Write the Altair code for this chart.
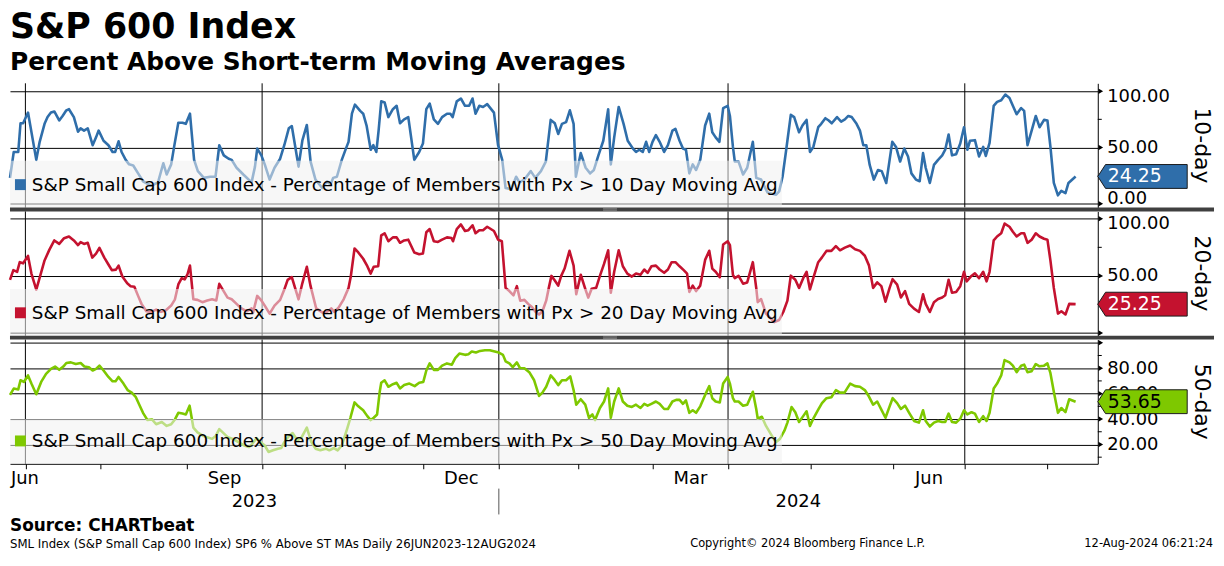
import altair as alt
import pandas as pd

FONT = "DejaVu Sans"
W, H = 1095, 125
XMIN, XMAX = 0.4, 289.9

HOLIDAYS = ["2023-07-04", "2023-09-04", "2023-11-23", "2023-12-25", "2024-01-01",
            "2024-01-15", "2024-02-19", "2024-03-29", "2024-05-27", "2024-06-19", "2024-07-04"]

TITLE = "S&P 600 Index"
SUBTITLE = "Percent Above Short-term Moving Averages"
SOURCE = "Source: CHARTbeat"
FOOT_LEFT = "SML Index (S&P Small Cap 600 Index) SP6 % Above ST MAs  Daily 26JUN2023-12AUG2024"
FOOT_MID = "Copyright\u00a9 2024 Bloomberg Finance L.P."
FOOT_RIGHT = "12-Aug-2024 06:21:24"

SERIES_NAMES = [
    "S&P Small Cap 600 Index - Percentage of Members with Px > 10 Day Moving Avg",
    "S&P Small Cap 600 Index - Percentage of Members with Px > 20 Day Moving Avg",
    "S&P Small Cap 600 Index - Percentage of Members with Px > 50 Day Moving Avg",
]
AXIS_TITLES = ["10-day", "20-day", "50-day"]
COLORS = ["#2f6eaa", "#c4122f", "#7ec800"]
BADGE_TEXT_COLORS = ["white", "white", "black"]
LAST_VALUES = [24.25, 25.25, 53.65]

Y_DOMAINS = [[-3.3, 107], [-2.3, 106.4], [4.8, 102.5]]
Y_TICKS = [[0, 50, 100], [0, 50, 100], [20, 40, 60, 80, 100]]
Y_MINOR = [[25, 75], [25, 75], [10, 30, 50, 70, 90]]
Y_HIDDEN_LABELS = [[], [0], [100]]

MONTH_LABELS = ["Jun", "Sep", "Dec", "Mar", "Jun"]
YEAR_LABELS = ["2023", "2024"]

# [trading-day index since 26 Jun 2023, percent]
PCT_10 = [
    [0.4, 23], [1.4, 46], [2.6, 46], [3.2, 71.5], [3.9, 71.5], [5.2, 81], [7.4, 39], [8.3, 55],
    [9.6, 71], [10.4, 77], [11.3, 81], [12.2, 82], [13.5, 74], [14.4, 78], [15.4, 83], [16.1, 84],
    [17.4, 77], [18.5, 64], [19.2, 67], [20.1, 65], [21.1, 67], [22.4, 52], [23.3, 59], [24.0, 65],
    [25.3, 56], [26.6, 52], [27.7, 46], [28.4, 46], [29.3, 55.5], [30.1, 46], [31.2, 39], [32.1, 35],
    [33.2, 34], [34.5, 27], [35.8, 20], [38.0, 16], [39.8, 19], [41.2, 36], [42.1, 26], [43.3, 35],
    [44.1, 51], [45.2, 72], [46.3, 72], [47.2, 71], [48.3, 80], [49.4, 39], [50.4, 29], [52.0, 23],
    [53.7, 24], [55.1, 24], [56.1, 52], [57.3, 43], [58.6, 40], [59.4, 39], [60.7, 32], [62.5, 26],
    [64.7, 19], [65.6, 33], [66.2, 49], [67.3, 43], [68.2, 35], [69.5, 21.5], [70.8, 32], [72.3, 40],
    [73.4, 52], [74.6, 67], [75.4, 69], [77.2, 33], [78.2, 56], [79.4, 70], [80.4, 37.5], [81.7, 21.5],
    [83.5, 14], [84.8, 20], [85.7, 17], [86.4, 23], [87.4, 24], [88.7, 39], [89.8, 49], [90.5, 55],
    [91.4, 80], [92.2, 88], [93.6, 82.5], [94.4, 80], [95.3, 69.5], [96.4, 48], [97.1, 52], [97.9, 46],
    [98.5, 65], [99.2, 91],
    [100.1, 90], [101.1, 77], [102.3, 84], [103.3, 87], [104.2, 71.5], [105.3, 75], [106.4, 77],
    [108.0, 39], [109.3, 46], [110.3, 53.5], [111.2, 84], [112.1, 89], [113.2, 75], [114.3, 71],
    [115.4, 77], [116.7, 80], [117.6, 80], [118.2, 77], [119.3, 91], [120.4, 93.5], [121.5, 87],
    [122.6, 87], [123.5, 93.5], [124.3, 80], [125.3, 87], [126.3, 86], [127.4, 88.5], [129.2, 81],
    [130.3, 52], [131.4, 39], [132.3, 14], [133.8, 13], [135.1, 24], [136.0, 19], [137.3, 21.5],
    [139.0, 29], [140.2, 23], [141.7, 29], [143.0, 37.5], [144.3, 74.5], [145.4, 71.5], [146.3, 62],
    [147.3, 71], [148.4, 72.5], [149.4, 83], [150.4, 71], [151.0, 24], [152.3, 45], [153.6, 32],
    [154.8, 27], [155.8, 30], [157.0, 43], [158.3, 56], [159.6, 84], [160.3, 35], [161.2, 59],
    [162.4, 86], [163.7, 71], [164.8, 56], [166.2, 49], [167.0, 46], [167.9, 48], [168.8, 46],
    [169.7, 55], [170.5, 46], [171.4, 55], [172.3, 61], [173.3, 55], [174.5, 46], [175.5, 52],
    [176.7, 65], [177.5, 66.5], [178.6, 56], [179.5, 49], [180.3, 48], [181.2, 27], [182.1, 35],
    [183.0, 30], [184.1, 39], [185.4, 69.5], [186.5, 80], [187.3, 63.5], [188.2, 59], [189.2, 55],
    [190.2, 85], [191.4, 87], [192.0, 78], [192.8, 50.5], [193.3, 37.5], [194.3, 37.5], [195.5, 26],
    [196.6, 32], [198.1, 55], [199.0, 23], [200.3, 21.5],
    [202.0, 10], [204.3, 8], [205.1, 11], [206.0, 24], [206.9, 46], [208.2, 79], [209.1, 77],
    [210.4, 63.5], [211.3, 69.5], [212.4, 74.5], [213.3, 46], [214.2, 50.5], [215.5, 68], [216.3, 71],
    [217.4, 76], [218.3, 74], [219.1, 71.5], [220.5, 77], [221.6, 73], [222.6, 75], [223.5, 78],
    [224.4, 77], [225.7, 71], [226.6, 65], [227.5, 52], [228.3, 52], [229.2, 34.5], [230.3, 21.5],
    [231.4, 30], [232.4, 29], [233.6, 18.5], [234.5, 39], [235.2, 55], [236.2, 50.5], [237.3, 37.5],
    [238.4, 49], [239.4, 42], [240.3, 27], [241.5, 21.5], [242.5, 20], [243.4, 45], [244.1, 32],
    [245.2, 18.5], [246.3, 34.5], [247.4, 39], [248.5, 43], [249.3, 48], [250.2, 61.5], [251.1, 43],
    [252.2, 44], [253.3, 53.5], [254.3, 68], [255.2, 48], [255.9, 56], [257.2, 56.5], [258.3, 42],
    [259.4, 50.5], [260.1, 42.5], [261.1, 54], [262.2, 87], [263.1, 90.5], [264.2, 92], [265.3, 97],
    [266.4, 94], [267.3, 87], [268.3, 79.5], [269.5, 85], [270.3, 82.5], [271.2, 52], [272.3, 65],
    [273.4, 78], [274.4, 68], [275.6, 74.5], [276.5, 74], [277.3, 50.5], [278.2, 18.5], [279.3, 7.5],
    [280.2, 11.5], [281.3, 9.5], [282.1, 18.5], [284.0, 24.25],
]

PCT_20 = [
    [0.4, 46.5], [1.3, 55], [2.3, 53.5], [3.0, 62], [3.9, 61], [5.2, 67.5], [6.1, 52], [7.4, 38],
    [8.4, 49.5], [9.6, 63.5], [10.9, 73], [12.2, 81], [13.5, 78], [14.8, 83], [16.1, 84.5], [17.4, 81],
    [18.5, 77], [19.2, 79.5], [20.1, 78], [21.1, 79], [22.3, 66], [23.3, 69.5], [24.2, 74.5], [25.5, 66],
    [26.6, 60], [27.5, 55], [28.6, 55.5], [29.3, 59], [30.3, 49.5], [31.6, 43.5], [32.5, 41], [33.5, 40.5],
    [34.5, 32.5], [35.4, 25.5], [36.7, 19], [38.0, 18.5], [39.3, 20.5], [40.6, 18.5], [41.9, 20], [43.3, 24],
    [44.3, 29.5], [45.2, 42.5], [46.1, 48], [46.9, 47], [47.6, 51], [48.3, 59], [49.2, 29.5], [50.3, 29],
    [51.6, 27], [52.9, 28.5], [54.2, 29.5], [55.3, 28.5], [56.1, 43], [57.3, 36.5], [58.3, 31], [59.4, 29.5],
    [60.7, 25.5], [62.0, 21.5], [63.4, 19], [64.7, 21.5], [65.1, 18], [66.2, 32.5], [67.3, 28.5], [68.2, 24],
    [69.5, 17], [70.8, 24], [72.3, 29], [73.4, 38], [74.3, 46.5], [75.4, 49], [77.2, 29.5], [78.2, 43.5],
    [79.4, 58], [80.4, 41], [81.9, 21.5], [83.5, 18], [84.8, 18.5], [85.9, 21.5], [86.7, 18.5], [87.9, 22.5],
    [89.2, 29.5], [90.5, 39.5], [91.1, 49.5], [92.1, 74], [93.1, 70.5], [94.4, 65], [95.5, 58.5], [96.4, 52],
    [97.2, 58], [98.4, 58.5], [99.2, 85.5],
    [100.1, 87.3], [101.1, 80.3], [102.3, 83.7], [103.3, 83.7], [104.2, 79], [105.3, 81], [106.4, 81.7],
    [108.0, 70.5], [109.3, 69], [110.3, 69.6], [111.2, 88.2], [112.1, 91], [113.2, 80.3], [114.3, 79.7],
    [115.4, 81.7], [116.7, 83.7], [117.9, 83.1], [118.3, 80.3], [119.3, 91], [120.4, 95], [121.5, 89.3],
    [122.4, 90], [123.5, 94.3], [124.3, 87.3], [125.3, 90], [126.3, 90], [127.4, 93], [129.2, 89.3],
    [130.3, 81.7], [131.3, 80.3], [132.3, 39.5], [133.3, 36.7], [134.4, 33], [135.3, 41], [136.2, 28.3],
    [137.3, 29], [138.3, 25.5], [139.3, 22.7], [140.3, 18.4], [141.2, 16.2], [142.1, 19], [143.1, 28.3],
    [143.8, 39.5], [144.5, 50], [145.4, 46], [146.3, 41.5], [147.1, 50], [148.0, 56.4], [149.3, 72],
    [150.4, 59], [151.1, 34], [152.3, 51], [153.5, 38.7], [154.3, 31], [155.2, 38.7], [156.4, 39.5],
    [157.4, 50], [158.5, 60.5], [159.6, 72.4], [160.3, 35.3], [161.2, 53.6], [162.4, 72.4], [163.5, 58.4],
    [164.7, 52], [165.9, 49.4], [167.0, 52], [168.2, 51], [169.2, 55.6], [170.1, 52.7], [171.1, 58.4],
    [172.3, 59], [173.3, 55.6], [174.5, 52.7], [175.5, 55.6], [176.5, 62], [177.5, 62], [178.6, 58.4],
    [179.7, 55], [180.6, 52], [181.2, 36], [182.1, 41.5], [183.0, 36.7], [184.1, 41.5], [185.4, 64],
    [186.5, 72], [187.3, 56.4], [188.2, 53.6], [189.3, 48.8], [190.2, 77.5], [191.4, 80.3], [192.0, 77],
    [192.8, 50.8], [193.3, 48], [194.3, 50], [195.5, 43.2], [196.6, 44.3], [198.1, 62], [199.0, 39.5],
    [199.4, 27], [200.3, 29.7],
    [201.6, 17], [203.8, 9.5], [205.1, 11.4], [206.2, 18.4], [207.3, 28.3], [208.2, 50.2], [209.4, 46.6],
    [210.4, 39.5], [211.5, 48], [212.4, 53.6], [213.3, 38.1], [214.3, 49.4], [215.5, 62], [216.5, 66.2],
    [217.7, 71.9], [219.0, 71.9], [220.2, 76.1], [221.3, 72.4], [222.6, 74.7], [224.0, 76.6], [225.3, 73.3],
    [226.6, 71.9], [227.9, 67.6], [229.0, 59.2], [230.1, 39.5], [231.2, 44.3], [232.3, 41], [233.4, 27.4],
    [234.5, 39.5], [235.3, 47.1], [236.5, 42.3], [237.5, 31.1], [238.6, 36.7], [239.7, 25.5], [241.0, 21.3],
    [242.3, 18.4], [243.4, 33.9], [244.1, 25.5], [245.2, 18.4], [246.3, 26.9], [247.4, 29.7], [248.5, 31.1],
    [249.3, 33.1], [250.2, 46.6], [251.1, 35.3], [252.2, 35.9], [253.3, 41], [254.3, 53.6], [255.0, 45.2],
    [256.1, 49.4], [257.2, 52.2], [258.3, 48], [259.4, 53.6], [260.3, 45.2], [261.1, 53.6], [262.2, 81.1],
    [263.1, 84.5], [264.2, 87.3], [265.1, 95.8], [266.4, 93], [267.3, 88.7], [268.3, 84.5], [269.5, 87.3],
    [270.3, 87.3], [271.2, 78.9], [272.3, 81.7], [273.4, 87.3], [274.4, 84.5], [275.6, 82.5], [276.5, 81.7],
    [277.3, 63.4], [278.2, 39.5], [279.3, 17], [280.2, 19], [281.3, 16.2], [282.3, 25.5], [284.0, 25.25],
]

PCT_50 = [
    [0.4, 59], [1.4, 64], [2.6, 63.3], [3.2, 70.5], [4.1, 69.2], [5.2, 74.3], [6.1, 67.9], [7.4, 59.5],
    [8.7, 69.2], [10.0, 75.6], [11.3, 79.5], [12.4, 81.3], [13.5, 78.7], [14.6, 81.3], [15.4, 84.1],
    [16.6, 84.6], [17.9, 83.3], [19.2, 84.1], [20.2, 81.3], [21.4, 80.8], [22.4, 78.2], [23.3, 79.5],
    [24.2, 82], [25.3, 78.2], [26.6, 73.1], [27.7, 69.7], [28.5, 69.7], [29.3, 73.1], [30.6, 67.9],
    [31.7, 62.8], [32.8, 60.8], [33.9, 57.2], [35.0, 50], [35.8, 44.9], [37.0, 39.2], [38.2, 39.7],
    [39.3, 35.9], [40.8, 37.7], [42.1, 34.6], [43.3, 35.9], [44.3, 39.7], [45.2, 44.9], [46.3, 44.3],
    [47.2, 43.6], [48.2, 50.5], [49.2, 33.3], [50.3, 29.5], [51.7, 26.9], [52.9, 25.6], [54.2, 24.4],
    [55.2, 26.9], [56.1, 32.1], [57.3, 28.7], [58.4, 25.6], [59.7, 24.4], [61.2, 21.8], [62.7, 19.2],
    [64.0, 17.9], [64.9, 20.5], [66.0, 24.9], [66.9, 22.3], [68.2, 19.2], [69.2, 14.1], [70.4, 15.4],
    [71.7, 16.7], [72.6, 17.2], [73.4, 21.8], [74.7, 26.9], [75.6, 29], [76.9, 23.1], [78.0, 25.6],
    [79.4, 33.3], [80.6, 21.8], [81.7, 16.7], [83.0, 15.4], [84.4, 16.7], [85.4, 15.4], [86.6, 17.2],
    [87.6, 15.4], [88.7, 19.2], [90.1, 32.1], [91.0, 41], [92.1, 53.1], [93.1, 50], [94.4, 46.9],
    [95.5, 42.3], [96.4, 39.2], [97.2, 41], [98.1, 43.6], [98.8, 61.5], [99.2, 68.5],
    [100.1, 70.5], [101.1, 65.4], [102.3, 67.4], [103.3, 68.5], [104.2, 64.1], [105.3, 66.7],
    [106.7, 67.9], [108.1, 65.9], [109.3, 68.5], [110.4, 69.2], [111.2, 78.2], [112.1, 83.8],
    [113.2, 78.7], [114.3, 78.7], [115.4, 82], [116.7, 83.8], [118.0, 82.8], [118.9, 87.9], [120.0, 91.5],
    [121.5, 90.5], [122.4, 91], [123.3, 93.1], [124.4, 92.3], [125.5, 93.6], [126.8, 94.1], [128.1, 94.1],
    [129.4, 93.1], [130.5, 92.3], [131.6, 90.5], [132.3, 85.4], [133.3, 83.8], [134.2, 80.8], [135.3, 84.6],
    [136.1, 80.2], [137.3, 80], [138.6, 76.9], [139.9, 70.5], [141.2, 58.2], [142.1, 60.8], [143.1, 65.4],
    [144.3, 74.3], [145.3, 71], [146.3, 66.7], [147.3, 70.5], [148.4, 70.5], [149.5, 73.6], [150.4, 62.8],
    [151.1, 51.3], [152.3, 55.6], [153.5, 51.3], [154.5, 41], [155.4, 43.6], [156.1, 39.2], [157.4, 48.7],
    [158.5, 53.8], [159.6, 64.1], [160.3, 41], [161.2, 53.8], [162.4, 64.1], [163.5, 53.8], [164.7, 50.5],
    [165.9, 49.5], [167.0, 51.3], [168.2, 48.7], [169.2, 52], [170.1, 50.5], [171.1, 52], [172.3, 53.8],
    [173.3, 52], [174.5, 47.9], [175.5, 47.9], [176.7, 53.8], [177.7, 55.1], [178.6, 55.1], [179.5, 52],
    [180.3, 54.6], [181.2, 44.9], [182.1, 46.9], [183.0, 44.9], [184.1, 50], [185.4, 59], [186.5, 65.9],
    [187.3, 56.4], [188.2, 53.8], [189.3, 53.1], [190.2, 67.9], [191.4, 73.1], [192.0, 67.9], [192.8, 56.4],
    [193.3, 53.8], [194.3, 53.8], [195.5, 50.5], [196.6, 51.3], [198.1, 61.5], [199.0, 47.9], [199.4, 40.3],
    [200.5, 41.8], [201.6, 34.6], [202.9, 28.2], [204.2, 21.8],
    [205.3, 24.4], [206.5, 30.8], [207.3, 37.2], [208.4, 49.5], [209.4, 45.4], [210.4, 37.7], [211.5, 42.3],
    [212.4, 46.1], [213.3, 34.6], [214.3, 41], [215.5, 47.4], [216.5, 52.5], [217.7, 56.4], [219.0, 57.2],
    [220.2, 62.8], [221.3, 60.8], [222.5, 60.8], [224.0, 67.9], [225.3, 65.9], [226.6, 65.4], [227.9, 62.8],
    [229.0, 57.7], [230.1, 51.3], [231.2, 53.8], [232.3, 47.4], [233.4, 41], [234.5, 50], [235.3, 56.4],
    [236.5, 52.5], [237.5, 47.9], [238.6, 50.5], [239.7, 44.9], [241.0, 38.5], [242.3, 37.2], [243.4, 46.9],
    [244.1, 38.5], [245.2, 34.1], [246.3, 37.2], [247.4, 38.5], [248.5, 37.7], [249.3, 37.7], [250.2, 44.3],
    [251.1, 37.7], [252.2, 37.2], [253.3, 40.3], [254.3, 46.9], [255.2, 43.6], [256.3, 45.4], [257.2, 44.3],
    [258.3, 37.7], [259.4, 42.3], [260.3, 38.5], [261.1, 44.9], [262.2, 64.1], [263.1, 67.9], [264.2, 74.3],
    [265.1, 86.4], [266.4, 84.6], [267.3, 82], [268.3, 76.9], [269.5, 82], [270.3, 82.8], [271.2, 76.9],
    [272.3, 77.7], [273.4, 83.3], [274.4, 81.5], [275.6, 82], [276.5, 83.8], [277.3, 76.1], [278.2, 61.5],
    [279.3, 44.9], [280.2, 48.7], [281.3, 45.4], [282.3, 55.6], [284.0, 53.65],
]

SERIES = [PCT_10, PCT_20, PCT_50]

# ---- trading calendar -> month / quarter boundaries ----
days = pd.bdate_range("2023-06-26", "2024-08-12")
days = days[~days.isin(pd.to_datetime(HOLIDAYS))]
months = days.to_period("M")
month_ends, quarter_ends = [], []
for i in range(1, len(days)):
    if months[i] != months[i - 1]:
        month_ends.append(i - 0.5)
        if days[i - 1].month in (3, 6, 9, 12):
            quarter_ends.append(i - 0.5)
year_break = next(i - 0.5 for i in range(1, len(days)) if days[i].year != days[i - 1].year)
label_pos = []
for p in sorted(set(months)):
    if p.month in (3, 6, 9, 12):
        idx = [i for i in range(len(days)) if months[i] == p]
        label_pos.append((idx[0] + idx[-1]) / 2)

BADGE_PATH = "M0,0L0.65,-1L7.5,-1L7.5,1L0.65,1Z"


def one(**kw):
    return pd.DataFrame({k: [v] for k, v in kw.items()})


def make_panel(k):
    if k == 2:
        xaxis = alt.Axis(orient="bottom", values=month_ends, labels=False, ticks=True, tickSize=5,
                         tickColor="black", domain=True, domainColor="black", domainWidth=1,
                         grid=False, title=None)
    else:
        xaxis = None
    hidden = Y_HIDDEN_LABELS[k]
    lab_expr = "indexof([%s], datum.value) >= 0 ? '' : datum.label" % ",".join(str(h) for h in hidden)
    yaxis = alt.Axis(orient="right", values=Y_TICKS[k], format=".2f", labelExpr=lab_expr,
                     grid=True, gridColor="black", gridWidth=1, gridOpacity=1,
                     domain=True, domainColor="black", domainWidth=1,
                     ticks=True, tickSize=5, tickOpacity=0,
                     labelFont=FONT, labelFontSize=18, labelColor="black", labelPadding=4,
                     labelFlush=10, labelFlushOffset=4, labelOverlap=False, title=None)

    def X(f):
        return alt.X(f"{f}:Q", scale=alt.Scale(domain=[XMIN, XMAX], nice=False, zero=False), axis=xaxis)

    def Y(f="value"):
        return alt.Y(f"{f}:Q", scale=alt.Scale(domain=Y_DOMAINS[k], nice=False, zero=False), axis=yaxis)

    color = COLORS[k]
    df = pd.DataFrame(SERIES[k], columns=["day", "value"])
    layers = []
    layers.append(alt.Chart(pd.DataFrame({"q": quarter_ends})).mark_rule(color="black", strokeWidth=1)
                  .encode(x=X("q")))
    layers.append(alt.Chart(df).mark_line(color=color, strokeWidth=2.6, strokeJoin="round")
                  .encode(x=X("day"), y=Y()))
    box_top = 80 if k == 2 else 78
    layers.append(alt.Chart(one(a=0)).mark_rect(fill="#f0f0f0", opacity=0.55)
                  .encode(x=alt.value(0), x2=alt.value(777), y=alt.value(box_top), y2=alt.value(H)))
    layers.append(alt.Chart(one(a=0)).mark_square(size=121, filled=True, opacity=1, color=color)
                  .encode(x=alt.value(10.5), y=alt.value(102)))
    layers.append(alt.Chart(one(t=SERIES_NAMES[k])).mark_text(font=FONT, fontSize=18.5, align="left",
                                                              baseline="middle", color="black")
                  .encode(x=alt.value(22), y=alt.value(102), text="t:N"))
    # tick marks on the right axis
    layers.append(alt.Chart(pd.DataFrame({"value": Y_MINOR[k]})).mark_rule(color="black", strokeWidth=1)
                  .encode(x=alt.value(W), x2=alt.value(W + 4), y=Y()))
    layers.append(alt.Chart(pd.DataFrame({"value": Y_TICKS[k]}))
                  .mark_point(shape="triangle-right", size=30, filled=True, opacity=1, color="black")
                  .encode(x=alt.value(W + 3), y=Y()))
    # last-value badge
    last = one(value=LAST_VALUES[k], lab=f"{LAST_VALUES[k]:.2f}")
    layers.append(alt.Chart(last).mark_point(shape=BADGE_PATH, size=576, filled=True, opacity=1,
                                             fill=color, stroke="#1a1a1a", strokeWidth=1)
                  .encode(x=alt.value(W), y=Y()))
    layers.append(alt.Chart(last).mark_text(font=FONT, fontSize=19, align="left", baseline="middle",
                                            color=BADGE_TEXT_COLORS[k])
                  .encode(x=alt.value(W + 10), y=Y(), text="lab:N"))
    # rotated panel title
    layers.append(alt.Chart(one(t=AXIS_TITLES[k])).mark_text(font=FONT, fontSize=22, angle=90,
                                                             align="center", baseline="middle",
                                                             color="black")
                  .encode(x=alt.value(W + 105), y=alt.value(H / 2), text="t:N"))
    if k < 2:
        layers.append(alt.Chart(one(a=0)).mark_rule(color="#404040", strokeWidth=4)
                      .encode(x=alt.value(0), x2=alt.value(1212), y=alt.value(H + 2)))
        for dy in (1.3, 2.7):
            layers.append(alt.Chart(one(a=0)).mark_rule(color="#a0a0a0", strokeWidth=0.7)
                          .encode(x=alt.value(597), x2=alt.value(611), y=alt.value(H + dy)))
    if k == 0:
        layers.append(alt.Chart(one(t=TITLE)).mark_text(font=FONT, fontSize=35, fontWeight="bold",
                                                        align="left", baseline="top",
                                                        color="black")
                      .encode(x=alt.value(0), y=alt.value(-74), text="t:N"))
        layers.append(alt.Chart(one(t=SUBTITLE)).mark_text(font=FONT, fontSize=25, fontWeight="bold",
                                                           align="left", baseline="top",
                                                           color="black")
                      .encode(x=alt.value(0), y=alt.value(-33.5), text="t:N"))
    if k == 2:
        first = pd.DataFrame({"pos": [XMIN], "t": [MONTH_LABELS[0]]})
        rest = pd.DataFrame({"pos": label_pos[1:], "t": MONTH_LABELS[1:]})
        years = pd.DataFrame({"pos": [(XMIN + year_break) / 2, (year_break + XMAX) / 2], "t": YEAR_LABELS})
        layers.append(alt.Chart(first).mark_text(font=FONT, fontSize=18, align="left", baseline="middle",
                                                 color="black", dx=1)
                      .encode(x=X("pos"), y=alt.value(H + 15), text="t:N"))
        layers.append(alt.Chart(rest).mark_text(font=FONT, fontSize=18, align="center", baseline="middle",
                                                color="black")
                      .encode(x=X("pos"), y=alt.value(H + 15), text="t:N"))
        layers.append(alt.Chart(years).mark_text(font=FONT, fontSize=18, align="center", baseline="middle",
                                                 color="black")
                      .encode(x=X("pos"), y=alt.value(H + 38), text="t:N"))
        layers.append(alt.Chart(pd.DataFrame({"pos": [year_break]})).mark_rule(color="#555555", strokeWidth=1)
                      .encode(x=X("pos"), y=alt.value(H + 25), y2=alt.value(H + 51)))
        layers.append(alt.Chart(one(t=SOURCE)).mark_text(font=FONT, fontSize=17, fontWeight="bold",
                                                         align="left", baseline="middle", color="black")
                      .encode(x=alt.value(0), y=alt.value(H + 63), text="t:N"))
        layers.append(alt.Chart(one(t=FOOT_LEFT)).mark_text(font=FONT, fontSize=11.8, align="left",
                                                            baseline="middle", color="black")
                      .encode(x=alt.value(0), y=alt.value(H + 81), text="t:N"))
        layers.append(alt.Chart(one(t=FOOT_MID)).mark_text(font=FONT, fontSize=11.5, align="center",
                                                           baseline="middle", color="black")
                      .encode(x=alt.value(803), y=alt.value(H + 81), text="t:N"))
        layers.append(alt.Chart(one(t=FOOT_RIGHT)).mark_text(font=FONT, fontSize=11.5, align="right",
                                                             baseline="middle", color="black")
                      .encode(x=alt.value(1211), y=alt.value(H + 81), text="t:N"))
    return alt.layer(*layers).properties(width=W, height=H)


chart = (
    alt.vconcat(make_panel(0), make_panel(1), make_panel(2), spacing=4, bounds="flush")
    .resolve_scale(x="shared", y="independent")
    .properties(padding=0, background="white")
    .configure_view(stroke=None)
)

chart.save("out.html", embed_options={"renderer": "svg", "actions": False})
